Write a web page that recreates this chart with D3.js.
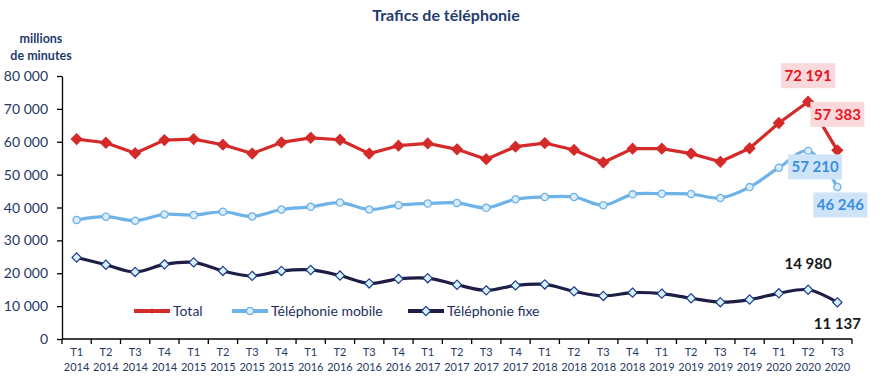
<!DOCTYPE html>
<html>
  <head>
    <meta charset="utf-8">
    <script src="https://d3js.org/d3.v7.min.js"></script>
    <title>Trafics de téléphonie</title>
    <style>
      body { margin: 0; background: #fff; }
      svg { display: block; }
      text { font-family: Lato, "Open Sans", sans-serif; }
    </style>
  </head>
  <body>
    <svg width="881" height="383"></svg>
    <script>
      // quarters T1 2014 .. T3 2020
      const quarters = ['T1','T2','T3','T4','T1','T2','T3','T4','T1','T2','T3','T4','T1','T2','T3','T4',
                        'T1','T2','T3','T4','T1','T2','T3','T4','T1','T2','T3'];
      const years = [2014,2014,2014,2014,2015,2015,2015,2015,2016,2016,2016,2016,2017,2017,2017,2017,
                     2018,2018,2018,2018,2019,2019,2019,2019,2020,2020,2020];

      const total = [60800, 59700, 56500, 60500, 60800, 59100, 56400, 59800, 61200, 60600, 56400, 58800,
                     59500, 57700, 54700, 58500, 59600, 57500, 53700, 57900, 57900, 56400, 53900, 58000,
                     65700, 72191, 57383];
      const mobile = [36200, 37200, 36000, 37900, 37700, 38700, 37300, 39400, 40200, 41500, 39400, 40700,
                      41200, 41400, 39900, 42500, 43200, 43200, 40700, 44000, 44200, 44100, 42900, 46200,
                      52100, 57210, 46246];
      const fixe = [24800, 22600, 20400, 22700, 23300, 20700, 19200, 20700, 21000, 19300, 16900, 18300,
                    18500, 16500, 14800, 16300, 16600, 14500, 13100, 14100, 13800, 12400, 11200, 12000,
                    13900, 14980, 11137];

      const yTicks = [0, 10000, 20000, 30000, 40000, 50000, 60000, 70000, 80000];

      const svg = d3.select('svg');
      const plotLeft = 62, plotRight = 852, plotTop = 76, plotBottom = 339;

      const idx = d3.range(quarters.length);
      const xScale = d3.scaleBand().domain(idx).range([plotLeft, plotRight]);
      const yScale = d3.scaleLinear().domain([0, 80000]).range([plotBottom, plotTop]);
      const xc = i => xScale(i) + xScale.bandwidth() / 2;
      const fmt = v => d3.format(',')(v).replace(/,/g, ' ');

      const txt = (x, y, s, size, fill, weight, anchor) =>
        svg.append('text').attr('x', x).attr('y', y)
          .attr('font-size', size).attr('fill', fill)
          .attr('font-weight', weight || 'normal')
          .attr('text-anchor', anchor || 'middle').text(s);

      // title and unit
      txt(446, 21, 'Trafics de téléphonie', 16, '#1f3c6e', 'bold');
      txt(41, 43, 'millions', 12.5, '#1f3c6e', 'bold');
      txt(41, 60, 'de minutes', 12.5, '#1f3c6e', 'bold');

      // y axis: line + ticks drawn by d3, labels as plain texts
      const yAxisG = svg.append('g').attr('transform', `translate(${plotLeft},0)`)
        .call(d3.axisLeft(yScale).tickValues(yTicks).tickSize(5).tickSizeOuter(0).tickFormat(''));
      yAxisG.selectAll('path, line').attr('stroke', '#000').attr('stroke-width', 1.3);
      yAxisG.selectAll('text').remove();
      yTicks.forEach(t => txt(plotLeft - 14, yScale(t) + 5, fmt(t), 14, '#1f3864', 'normal', 'end'));

      // x axis with ticks at band boundaries
      svg.append('line').attr('x1', plotLeft).attr('x2', plotRight)
        .attr('y1', plotBottom).attr('y2', plotBottom)
        .attr('stroke', '#000').attr('stroke-width', 1.3);
      svg.selectAll('.bt').data(d3.range(quarters.length + 1)).enter().append('line')
        .attr('class', 'bt')
        .attr('x1', i => plotLeft + i * xScale.step()).attr('x2', i => plotLeft + i * xScale.step())
        .attr('y1', plotBottom).attr('y2', plotBottom + 5)
        .attr('stroke', '#000').attr('stroke-width', 1.3);
      idx.forEach(i => {
        txt(xc(i), plotBottom + 17, quarters[i], 11, '#1f3864');
        txt(xc(i), plotBottom + 32, years[i], 11, '#1f3864');
      });

      // series
      const series = [
        { name: 'Total', data: total, color: '#d42a2a', curve: d3.curveLinear,
          marker: 'diamondFill', mfill: '#d42a2a', mstroke: '#d42a2a' },
        { name: 'Téléphonie mobile', data: mobile, color: '#6db3e8', curve: d3.curveCatmullRom,
          marker: 'circle', mfill: '#dcecfb', mstroke: '#6db3e8' },
        { name: 'Téléphonie fixe', data: fixe, color: '#1e1e44', curve: d3.curveCatmullRom,
          marker: 'diamond', mfill: '#d6f4ff', mstroke: '#1f3a8a' }
      ];

      const drawMarker = (sel, s) => {
        if (s.marker === 'circle') {
          sel.append('circle').attr('r', 3.6)
            .attr('fill', s.mfill).attr('stroke', s.mstroke).attr('stroke-width', 1.3);
        } else {
          const r = s.marker === 'diamondFill' ? 5.3 : 4.6;
          sel.append('path').attr('d', `M0,${-r}L${r},0L0,${r}L${-r},0Z`)
            .attr('fill', s.mfill).attr('stroke', s.mstroke).attr('stroke-width', 1.2);
        }
      };

      series.forEach(s => {
        const line = d3.line().x((d, i) => xc(i)).y(d => yScale(d)).curve(s.curve);
        svg.append('path').datum(s.data)
          .attr('d', line).attr('fill', 'none')
          .attr('stroke', s.color).attr('stroke-width', 3.2)
          .attr('stroke-linejoin', 'round');
        const m = svg.selectAll(null).data(s.data).enter().append('g')
          .attr('transform', (d, i) => `translate(${xc(i)},${yScale(d)})`);
        drawMarker(m, s);
      });

      // legend
      const legendX = [134, 232, 408];
      const legendY = 311;
      series.forEach((s, k) => {
        const x = legendX[k];
        svg.append('line').attr('x1', x).attr('x2', x + 36).attr('y1', legendY).attr('y2', legendY)
          .attr('stroke', s.color).attr('stroke-width', 4);
        const mk = svg.append('g').attr('transform', `translate(${x + 18},${legendY})`);
        if (s.marker === 'diamondFill') {
          mk.append('path').attr('d', 'M0,-3L2,0L0,3L-2,0Z').attr('fill', s.color);
        } else {
          drawMarker(mk, s);
        }
        txt(x + 39, legendY + 5, s.name, 14, '#1f2f5f', 'normal', 'start');
      });

      // value labels for the last two quarters
      const n = quarters.length;
      const boxes = [
        { v: total[n - 2], i: n - 2, dy: -26, dx: 0, fill: '#f9d9dc', color: '#e8141c' },
        { v: total[n - 1], i: n - 1, dy: -36, dx: 0, fill: '#f9d9dc', color: '#e8141c' },
        { v: mobile[n - 2], i: n - 2, dy: 16, dx: 7, fill: '#cfe4f8', color: '#3a8fdf' },
        { v: mobile[n - 1], i: n - 1, dy: 18, dx: 3, fill: '#cfe4f8', color: '#3a8fdf' }
      ];
      boxes.forEach(b => {
        const cx = xc(b.i) + b.dx;
        const cy = yScale(b.v) + b.dy;
        svg.append('rect').attr('x', cx - 27).attr('y', cy - 12.5)
          .attr('width', 54).attr('height', 25).attr('fill', b.fill);
        txt(cx, cy + 5.5, fmt(b.v), 15, b.color, 'bold');
      });
      [
        { v: fixe[n - 2], i: n - 2, dy: -21 },
        { v: fixe[n - 1], i: n - 1, dy: 27 }
      ].forEach(b => txt(xc(b.i), yScale(b.v) + b.dy, fmt(b.v), 15, '#1a1a1a', 'bold'));
    </script>
  </body>
</html>
